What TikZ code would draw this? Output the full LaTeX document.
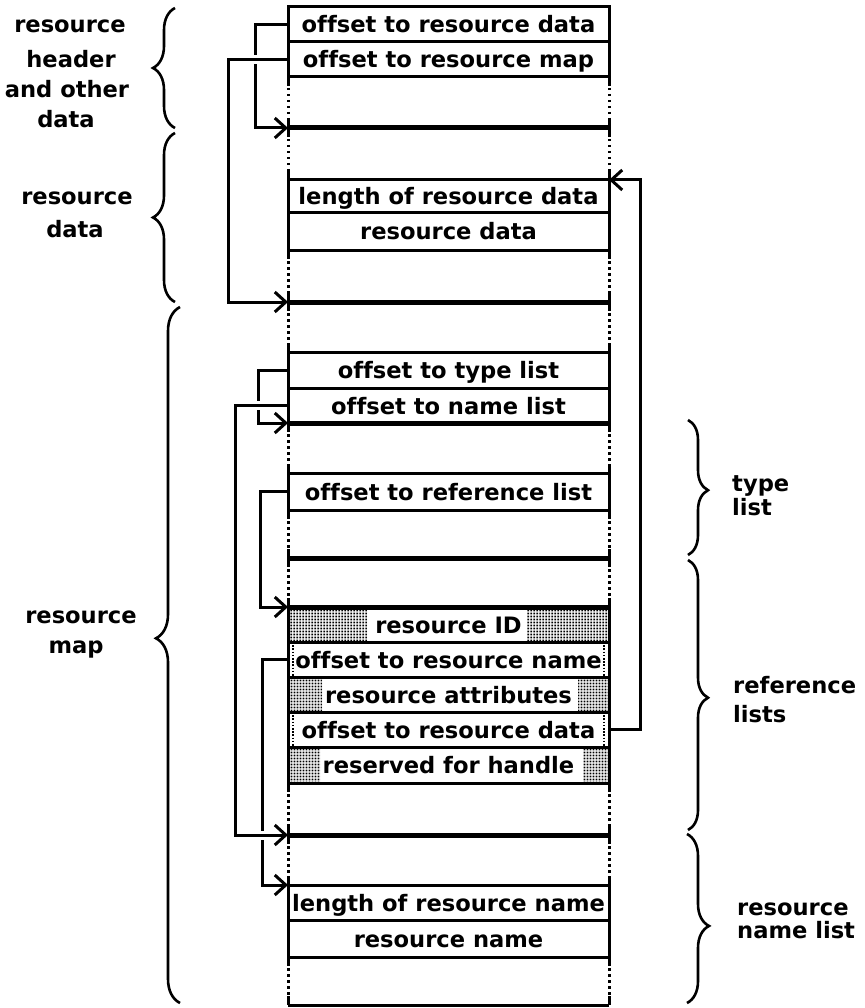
\documentclass[tikz,border=0pt]{standalone}
\usepackage{fontspec}
\newfontfamily\chic{DejaVu Sans}[Ligatures=NoCommon]
\usetikzlibrary{arrows.meta,patterns,decorations.pathreplacing}
\pgfdeclarepatternformonly{stipgrid}{\pgfpointorigin}{\pgfpoint{3.3pt}{3.3pt}}{\pgfpoint{3.3pt}{3.3pt}}{%
  \pgfpathrectangle{\pgfpoint{0.6pt}{0.6pt}}{\pgfpoint{2.1pt}{2.1pt}}%
  \pgfusepath{fill}}
\newcommand\gapside[2]{%
  \foreach \xx in {288,609} {
    \draw[sideline] (\xx,#1) -- (\xx,#1+9);
    \draw[dotline] (\xx,#1+11) -- (\xx,#2-9);
    \draw[sideline] (\xx,#2-9) -- (\xx,#2);
  }}
\begin{document}
\begin{tikzpicture}[x=1pt,y=-1pt,
  txt/.style={font=\chic\bfseries\fontsize{22.6}{26}\selectfont, inner sep=0pt},
  lab/.style={txt, anchor=base},
  labw/.style={txt, anchor=base west},
  row/.style={txt, draw, line width=3pt, minimum width=321pt, anchor=north west,
    outer sep=0pt, text height=17pt, text depth=0pt},
  sideline/.style={line width=3pt},
  dotline/.style={line width=3pt, dash pattern=on 2.5pt off 3.5pt},
  fineedge/.style={line width=2.2pt, dash pattern=on 1.6pt off 1.6pt},
  thickline/.style={line width=5pt},
  conn/.style={line width=3pt},
  arr/.style={conn, -{Straight Barb[length=11pt,width=20pt]}},
  gap/.style={white, line width=9pt},
  stip/.style={pattern=stipgrid},
  lbrace/.style={decorate, decoration={brace, amplitude=22pt}, line width=2.6pt},
  rbrace/.style={decorate, decoration={brace, amplitude=20pt}, line width=2.6pt}]
\useasboundingbox (0,0) rectangle (864,1008);

% stippled fills
\fill[stip] (288,607) rectangle (367,642);
\fill[stip] (527,607) rectangle (609,642);
\fill[stip] (288,677) rectangle (322,712);
\fill[stip] (578,677) rectangle (609,712);
\fill[stip] (288,747) rectangle (320,783);
\fill[stip] (583,747) rectangle (609,783);

% rows
\node[row, minimum height=35pt] (r1) at (288,7) {offset to resource data};
\node[row, minimum height=35pt] (r2) at (288,42) {offset to resource map};
\node[row, minimum height=33pt] (lrd) at (288,180) {length of resource data};
\node[row, minimum height=37pt] (rdt) at (288,213) {resource data};
\node[row, minimum height=36pt] (otl) at (288,352) {offset to type list};
\node[row, minimum height=35pt] (onl) at (288,388) {offset to name list};
\node[row, minimum height=37pt] (orl) at (288,473) {offset to reference list};
\node[row, minimum height=35pt] (rid) at (288,607) {resource ID};
\node[row, minimum height=35pt] (orn) at (288,642) {offset to resource name};
\node[row, minimum height=35pt] (rat) at (288,677) {resource attributes};
\node[row, minimum height=35pt] (ord) at (288,712) {offset to resource data};
\node[row, minimum height=36pt] (rfh) at (288,747) {reserved for handle};
\node[row, minimum height=35pt] (lrn) at (288,885) {length of resource name};
\node[row, minimum height=37pt] (rnm) at (288,920) {resource name};

% dotted inner edges
\foreach \n in {orn,ord} {
  \draw[fineedge] ([xshift=5pt]\n.north west) -- ([xshift=5pt]\n.south west);
  \draw[fineedge] ([xshift=-5pt]\n.north east) -- ([xshift=-5pt]\n.south east);
}

% thick separators
\coordinate (m1) at (288,128);
\coordinate (m2) at (288,302);
\coordinate (m3) at (288,558);
\coordinate (m5) at (288,835);
\coordinate (mb) at (288,1005);
\foreach \m in {m1,m2,m3,m5} \draw[thickline] (\m) -- ++(321,0);
\draw[sideline] (mb) -- ++(321,0);
\draw[thickline] (onl.south west) -- (onl.south east);
\draw[thickline] (rid.north west) -- (rid.north east);

% side lines in gaps
\gapside{77}{128}
\gapside{128}{180}
\gapside{250}{302}
\gapside{302}{352}
\gapside{423}{473}
\gapside{510}{558}
\gapside{558}{607}
\gapside{783}{835}
\gapside{835}{885}
\gapside{957}{1005}

% connectors
\draw[arr] (r1.west) -- ++(-33,0) |- (m1);
\draw[arr] (otl.west) -- ++(-30,0) |- (onl.south west);
\draw[arr] (orn.west) -- ++(-26,0) |- (lrn.north west);
\draw[gap] (249,59.5) -- (261,59.5);
\draw[gap] (252,405.5) -- (264,405.5);
\draw[gap] (256,835) -- (268,835);
\draw[arr] (r2.west) -- ++(-60,0) |- (m2);
\draw[arr] (onl.west) -- ++(-53,0) |- (m5);
\draw[arr] (orl.west) -- ++(-28,0) |- (rid.north west);
\draw[arr] (ord.east) -- ++(31,0) |- (lrd.north east);

% braces
\draw[lbrace] (175,128) -- (175,8);
\draw[lbrace] (175,302) -- (175,133);
\draw[lbrace, decoration={aspect=0.524, amplitude=24pt}] (180,1003) -- (180,307);
\draw[rbrace, decoration={aspect=0.52}] (688,420) -- (688,555);
\draw[rbrace, decoration={aspect=0.51}] (688,560) -- (688,830);
\draw[rbrace, decoration={aspect=0.544, amplitude=22pt}] (687,834) -- (687,1003);

% left labels
\node[lab] (h1) at (70,33) {resource};
\node[lab] (h2) at (71,68) {header};
\node[lab] (h3) at (67,98) {and other};
\node[lab] (h4) at (66,128) {data};
\node[lab] (d1) at (77,205) {resource};
\node[lab] (d2) at (75,237) {data};
\node[lab] (p1) at (81,623) {resource};
\node[lab] (p2) at (76,653) {map};

% right labels
\node[labw] (t1) at (732,491) {type};
\node[labw] (t2) at (732,515) {list};
\node[labw] (f1) at (733,693) {reference};
\node[labw] (f2) at (733,722) {lists};
\node[labw] (n1) at (737,915) {resource};
\node[labw] (n2) at (737,938) {name list};
\end{tikzpicture}
\end{document}
